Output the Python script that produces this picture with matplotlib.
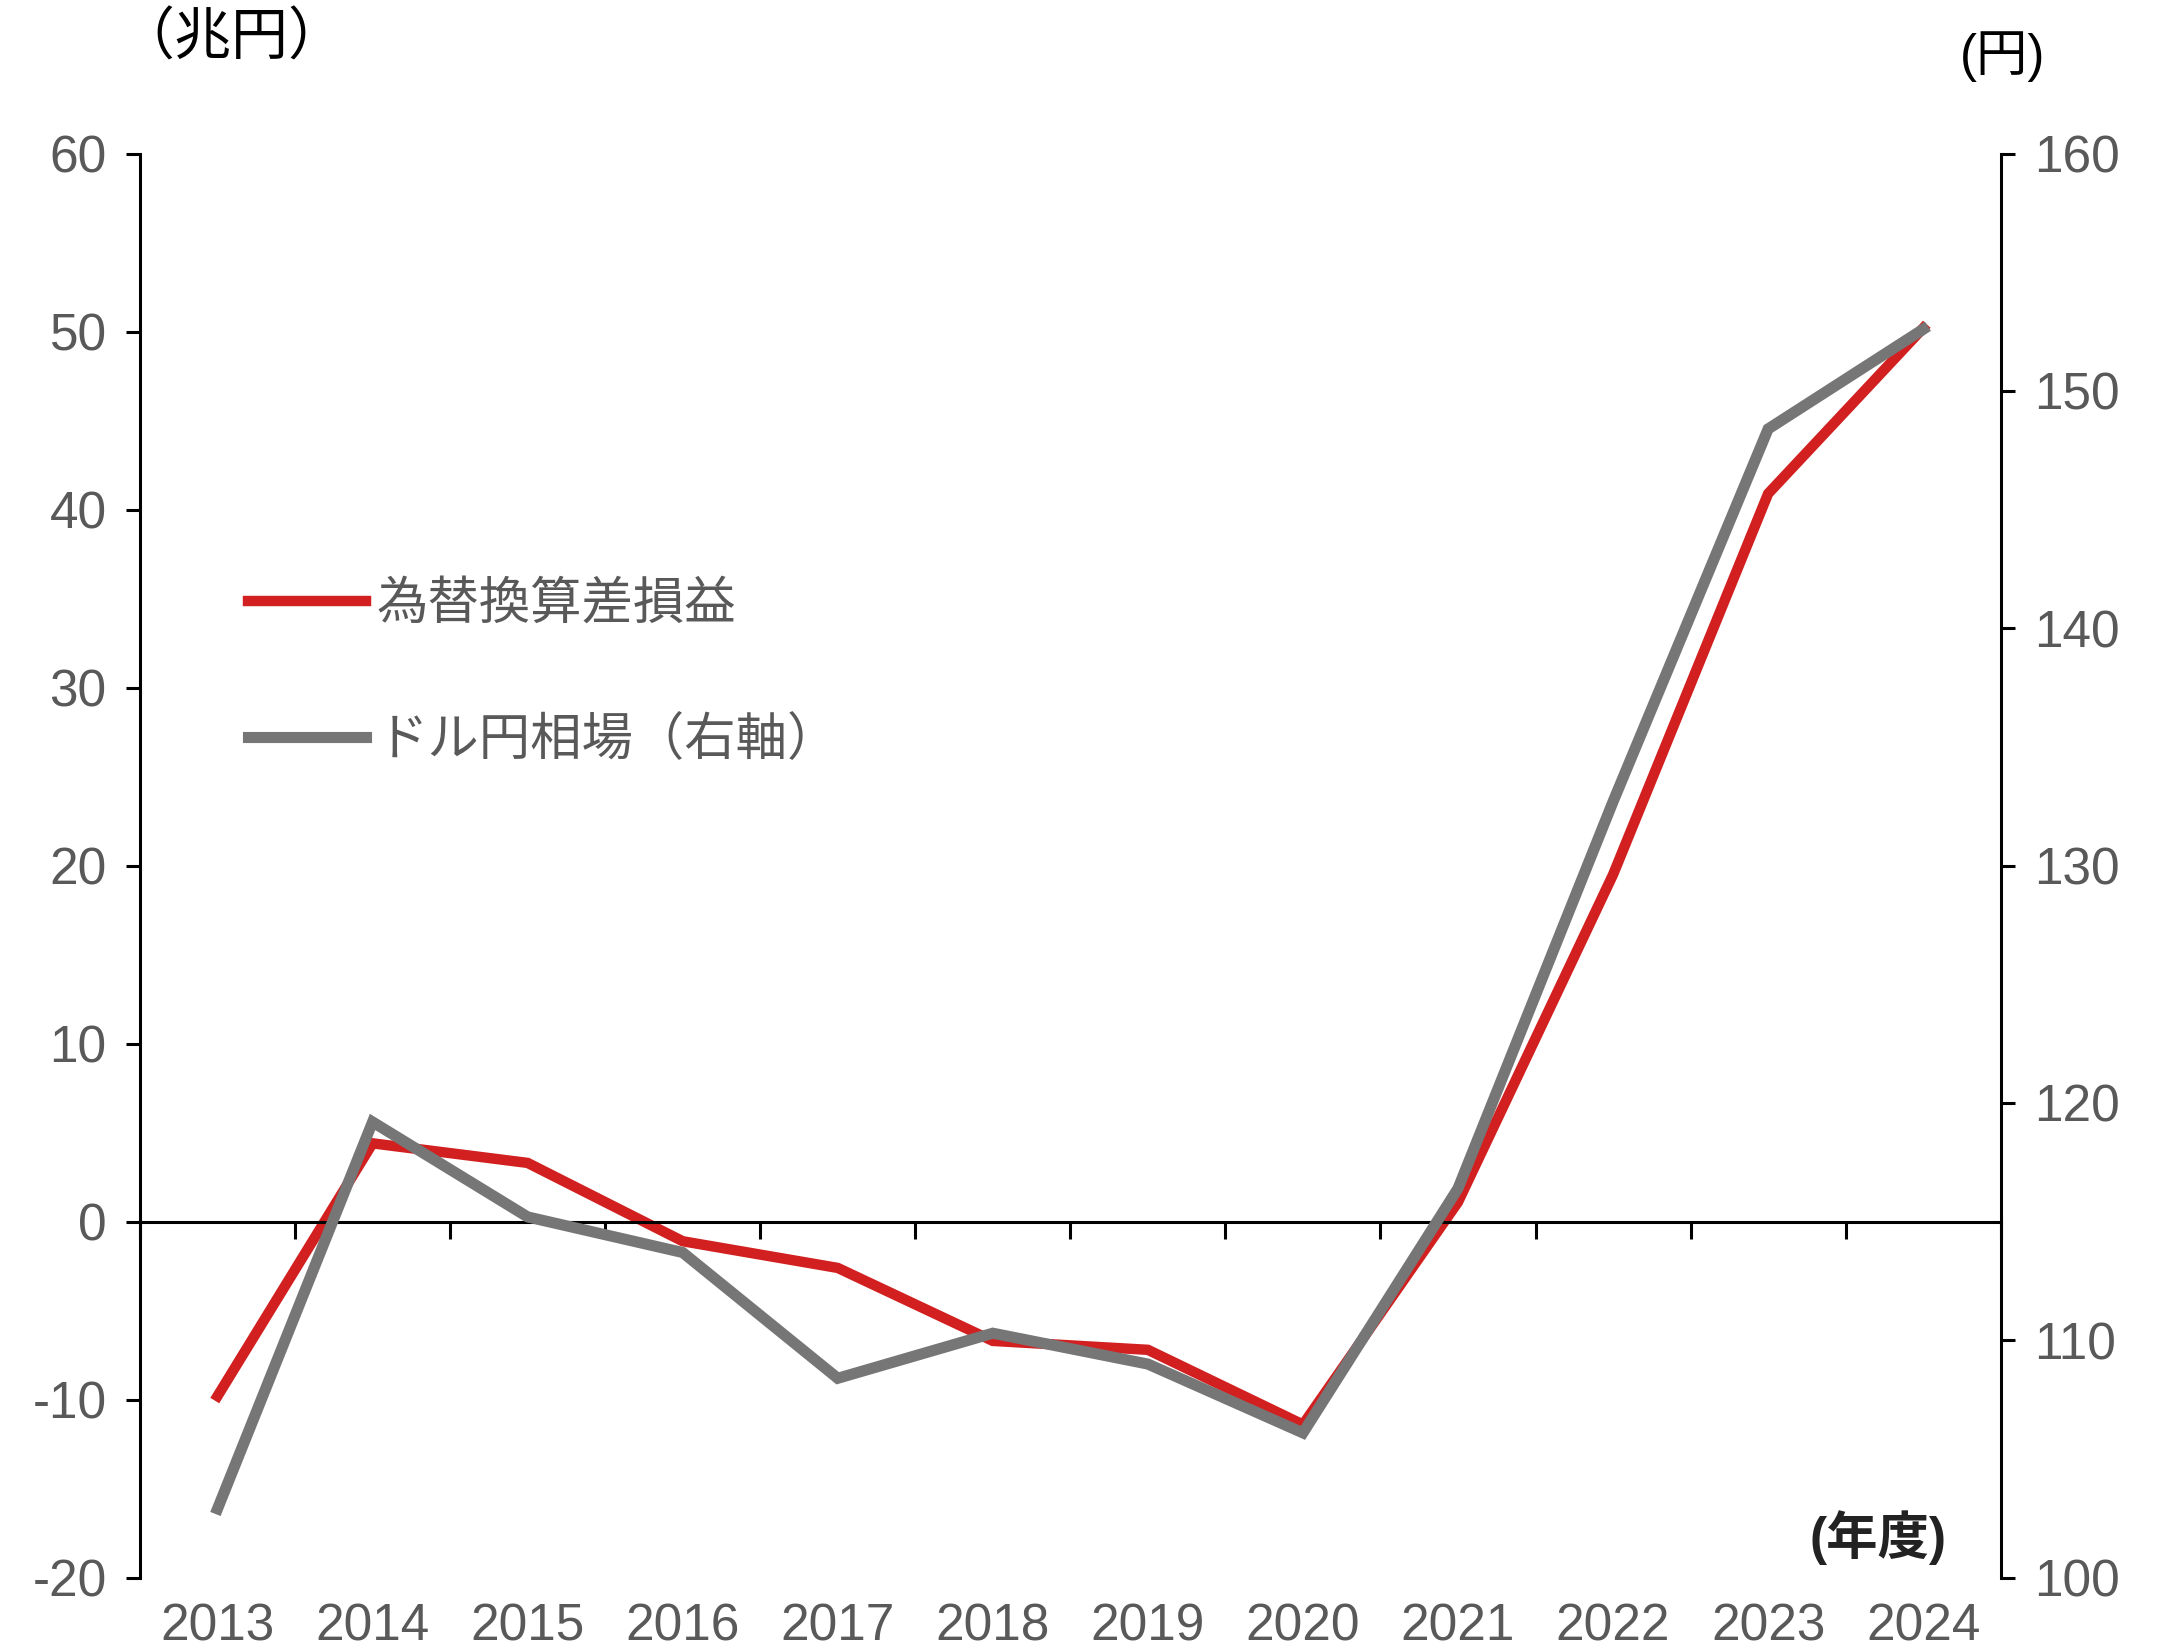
import matplotlib
matplotlib.use('Agg')
import matplotlib.pyplot as plt
import numpy as np

plt.rcParams['font.family'] = ['Liberation Sans', 'Noto Sans CJK JP']
plt.rcParams['axes.unicode_minus'] = False

# Data
years = ['2013', '2014', '2015', '2016', '2017', '2018',
         '2019', '2020', '2021', '2022', '2023', '2024']
fx_gain = [-9.8, 4.4, 3.3, -1.1, -2.6, -6.7, -7.2, -11.4, 1.1, 19.5, 40.9, 50.2]
usdjpy = [102.9, 119.2, 115.2, 113.7, 108.4, 110.3, 109.0, 106.1, 116.4, 132.7, 148.4, 152.6]

RED = '#D21F1F'
GRAY = '#767676'
TXT = '#595959'
FS = 37

fig = plt.figure(figsize=(21.7, 16.52), dpi=100)
ax = fig.add_axes([0.0645, 0.045, 0.8575, 0.862])
x = np.arange(len(years))

ax.plot(x, fx_gain, color=RED, lw=7.5, label='為替換算差損益', solid_joinstyle='miter')
ax.set_xlim(-0.5, len(years) - 0.5)
ax.set_ylim(-20, 60)
ax.set_yticks(np.arange(-20, 61, 10))

# x axis line at zero with ticks at category boundaries
ax.spines['bottom'].set_position(('data', 0))
ax.spines['top'].set_visible(False)
ax.spines['right'].set_visible(False)
for s in ['left', 'bottom']:
    ax.spines[s].set_linewidth(2.2)
ax.set_xticks(np.arange(-0.5, len(years), 1))
ax.tick_params(axis='x', direction='out', length=12, width=2.2, labelbottom=False)
ax.tick_params(axis='y', direction='out', length=10, width=2.2, labelsize=FS,
               labelcolor=TXT, pad=14)

# category labels at the bottom
sec = ax.secondary_xaxis('bottom')
sec.set_xticks(x, years)
sec.spines['bottom'].set_visible(False)
sec.tick_params(length=0, labelsize=FS, labelcolor=TXT, pad=18)
sec.set_xlim(ax.get_xlim())

ax2 = ax.twinx()
ax2.plot(x, usdjpy, color=GRAY, lw=8, label='ドル円相場（右軸）', solid_joinstyle='miter')
ax2.set_ylim(100, 160)
ax2.set_yticks(np.arange(100, 161, 10))
for s in ['top', 'left', 'bottom']:
    ax2.spines[s].set_visible(False)
ax2.spines['right'].set_linewidth(2.2)
ax2.tick_params(axis='y', direction='out', length=10, width=2.2, labelsize=FS,
                labelcolor=TXT, pad=14)

h1, l1 = ax.get_legend_handles_labels()
h2, l2 = ax2.get_legend_handles_labels()
leg = ax2.legend(h1 + h2, l1 + l2, loc='upper left', bbox_to_anchor=(0.058, 0.70),
                 frameon=False, fontsize=FS, handlelength=2.3, handletextpad=0.2,
                 labelspacing=1.7, borderpad=0, borderaxespad=0)
for t in leg.get_texts():
    t.set_color(TXT)

fig.text(0.054, 0.976, '（兆円）', fontsize=41, color='black', va='center', ha='left')
fig.text(0.923, 0.966, '(円)', fontsize=FS, color='black', va='center', ha='center')
fig.text(0.897, 0.069, '(年度)', fontsize=FS, color='#222222',
         fontweight='semibold', ha='right', va='center')

fig.savefig('out.png', dpi=100)
